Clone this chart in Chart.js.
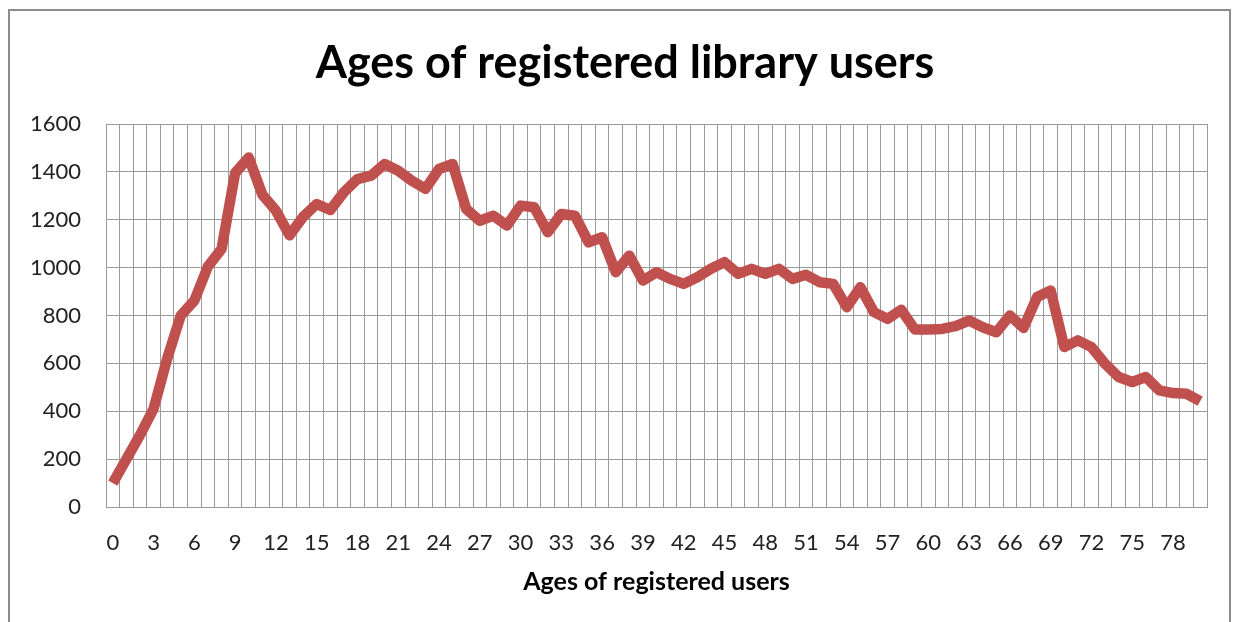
<!DOCTYPE html>
<html>
<head>
<meta charset="utf-8">
<script src="https://cdn.jsdelivr.net/npm/chart.js@4"></script>
<style>
  html, body { margin: 0; padding: 0; background: #fff; width: 1239px; height: 622px; overflow: hidden; }
  #frame { position: absolute; left: 8px; top: 9px; width: 1223px; height: 640px; border: 2px solid #8c8c8c; box-sizing: border-box; }
  #wrap { position: absolute; left: 0; top: 0; width: 1239px; height: 622px; }
</style>
</head>
<body>
<div id="frame"></div>
<div id="wrap"><canvas id="c" width="1239" height="622"></canvas></div>
<script>
const chartTitle = "Ages of registered library users";
const xAxisTitle = "Ages of registered users";
const ages = Array.from({length: 81}, (_, i) => String(i));
const users = [
  100, 200, 300, 410, 620, 800, 862, 1005, 1078, 1395,
  1460, 1305, 1238, 1135, 1212, 1266, 1241, 1315, 1370, 1384,
  1433, 1405, 1363, 1329, 1412, 1433, 1245, 1196, 1217, 1176,
  1259, 1252, 1148, 1224, 1217, 1106, 1127, 981, 1050, 946,
  981, 953, 932, 960, 995, 1023, 974, 995, 974, 995,
  953, 970, 939, 932, 835, 918, 814, 786, 824, 742,
  742, 744, 756, 779, 751, 730, 800, 748, 877, 904,
  668, 696, 668, 598, 543, 522, 543, 487, 476, 473, 442
];
const yTicks = [0, 200, 400, 600, 800, 1000, 1200, 1400, 1600];

const FONT = "Lato, 'Open Sans', sans-serif";
new Chart(document.getElementById('c'), {
  type: 'line',
  data: {
    labels: ages,
    datasets: [{
      data: users,
      borderColor: '#C0504D',
      borderWidth: 10.5,
      pointRadius: 0,
      tension: 0,
      fill: false,
      borderJoinStyle: 'round',
      borderCapStyle: 'butt'
    }]
  },
  options: {
    responsive: false,
    animation: false,
    layout: { padding: { left: 11, right: 0, top: 0, bottom: 0 } },
    plugins: {
      legend: { display: false },
      tooltip: { enabled: false },
      title: {
        display: true,
        text: chartTitle,
        color: '#000',
        font: { family: FONT, size: 45, weight: 'bold', lineHeight: 1.2 },
        padding: { top: 36, bottom: 34 }
      }
    },
    scales: {
      x: {
        type: 'category',
        offset: true,
        afterFit: function(s) { s.height = 115; },
        grid: { display: true, offset: true, color: '#9a9a9a', lineWidth: 1, drawTicks: false },
        border: { display: true, color: '#9a9a9a', width: 1 },
        ticks: {
          autoSkip: false,
          maxRotation: 0,
          minRotation: 0,
          padding: 23,
          color: '#222',
          font: { family: FONT, size: 22, lineHeight: 1.2 },
          callback: function(v, i) { return (i % 3 === 0) ? ages[i] : ''; }
        },
        title: {
          display: true,
          text: xAxisTitle,
          color: '#000',
          font: { family: FONT, size: 25, weight: 'bold', lineHeight: 1.2 },
          padding: { top: 10, bottom: 25 }
        }
      },
      y: {
        min: 0,
        max: 1600,
        afterFit: function(s) { s.width = 95; },
        afterBuildTicks: function(s) { s.ticks = yTicks.map(v => ({ value: v })); },
        grid: { color: '#9a9a9a', lineWidth: 1, drawTicks: false },
        border: { display: true, color: '#9a9a9a', width: 1 },
        ticks: {
          padding: 25,
          color: '#222',
          font: { family: FONT, size: 22, lineHeight: 1.2 },
          callback: function(v) { return String(v); }
        }
      },
      yRight: {
        position: 'right',
        min: 0,
        max: 1600,
        afterFit: function(s) { s.width = 32; },
        grid: { display: false, drawTicks: false },
        border: { display: false },
        ticks: { display: false }
      }
    }
  }
});
</script>
</body>
</html>
